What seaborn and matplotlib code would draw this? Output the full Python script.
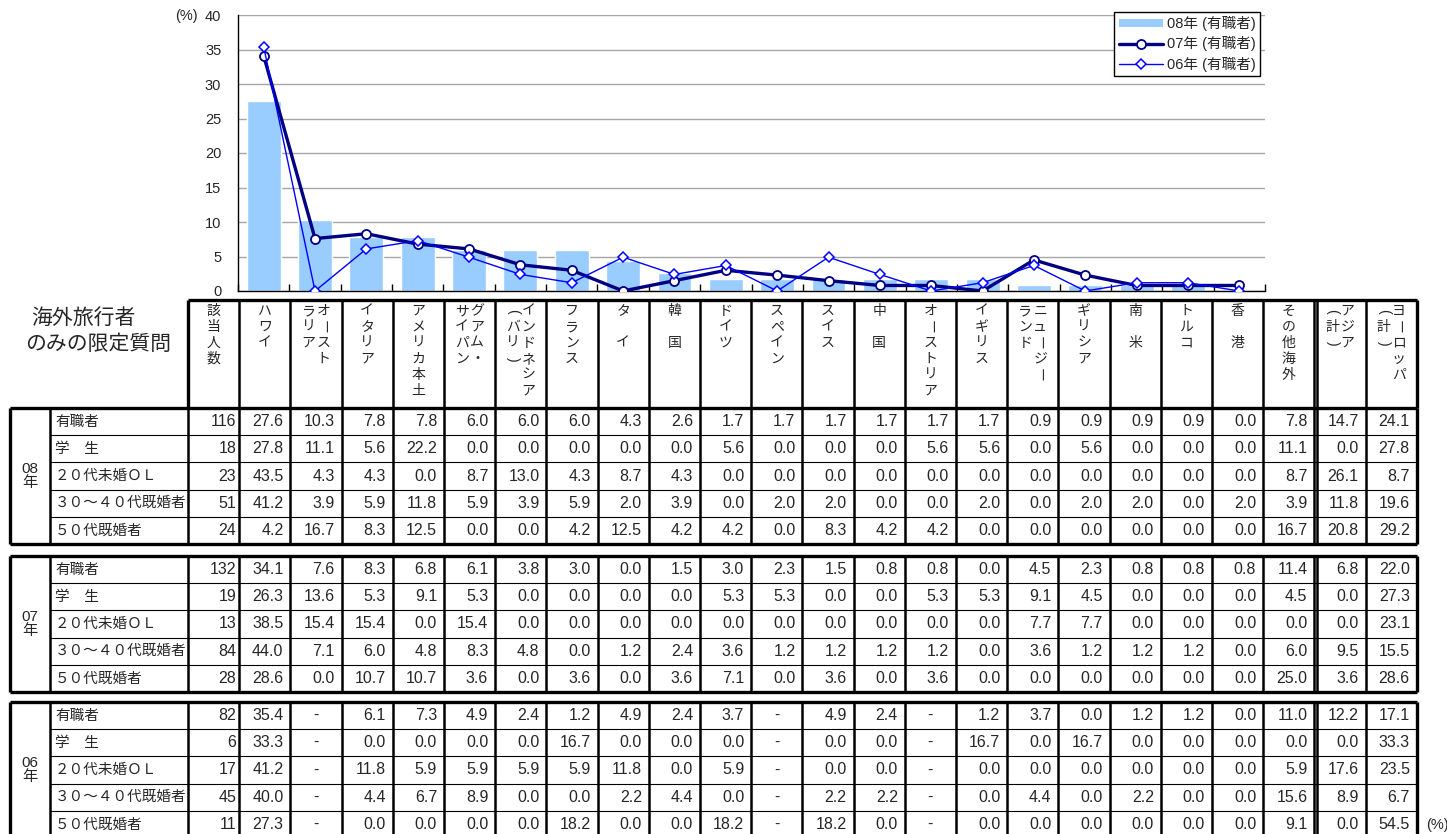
import numpy as np
import pandas as pd
import matplotlib
matplotlib.use("Agg")
import matplotlib.pyplot as plt
import seaborn as sns
from matplotlib.patches import Patch
from matplotlib.lines import Line2D
from matplotlib.font_manager import FontProperties

# ---------------- data ----------------
destinations = ['ハワイ', 'オーストラリア', 'イタリア', 'アメリカ本土', 'グアム・サイパン',
                'インドネシア(バリ)', 'フランス', 'タイ', '韓国', 'ドイツ', 'スペイン', 'スイス',
                '中国', 'オーストリア', 'イギリス', 'ニュージーランド', 'ギリシア', '南米', 'トルコ', '香港']

# header labels written vertically (sub-columns listed right to left)
header_cols = [['該当人数'], ['ハワイ'], ['オースト', 'ラリア'], ['イタリア'], ['アメリカ本土'],
               ['グアム・', 'サイパン'], ['インドネシア', '(バリ)'], ['フランス'], ['タ　イ'],
               ['韓　国'], ['ドイツ'], ['スペイン'], ['スイス'], ['中　国'], ['オーストリア'],
               ['イギリス'], ['ニュージー', 'ランド'], ['ギリシア'], ['南　米'], ['トルコ'],
               ['香　港'], ['その他海外'], ['アジア', '(計)'], ['ヨーロッパ', '(計)']]

groups = ['有職者', '学　生', '２０代未婚ＯＬ', '３０～４０代既婚者', '５０代既婚者']
year_labels = ['08\n年', '07\n年', '06\n年']

counts_08 = [116, 18, 23, 51, 24]
counts_07 = [132, 19, 13, 84, 28]
counts_06 = [82, 6, 17, 45, 11]

y08_worker = [27.6, 10.3, 7.8, 7.8, 6.0, 6.0, 6.0, 4.3, 2.6, 1.7, 1.7, 1.7, 1.7, 1.7, 1.7, 0.9, 0.9, 0.9, 0.9, 0.0, 7.8, 14.7, 24.1]
y08_student = [27.8, 11.1, 5.6, 22.2, 0.0, 0.0, 0.0, 0.0, 0.0, 5.6, 0.0, 0.0, 0.0, 5.6, 5.6, 0.0, 5.6, 0.0, 0.0, 0.0, 11.1, 0.0, 27.8]
y08_ol20 = [43.5, 4.3, 4.3, 0.0, 8.7, 13.0, 4.3, 8.7, 4.3, 0.0, 0.0, 0.0, 0.0, 0.0, 0.0, 0.0, 0.0, 0.0, 0.0, 0.0, 8.7, 26.1, 8.7]
y08_mar3040 = [41.2, 3.9, 5.9, 11.8, 5.9, 3.9, 5.9, 2.0, 3.9, 0.0, 2.0, 2.0, 0.0, 0.0, 2.0, 0.0, 2.0, 2.0, 0.0, 2.0, 3.9, 11.8, 19.6]
y08_mar50 = [4.2, 16.7, 8.3, 12.5, 0.0, 0.0, 4.2, 12.5, 4.2, 4.2, 0.0, 8.3, 4.2, 4.2, 0.0, 0.0, 0.0, 0.0, 0.0, 0.0, 16.7, 20.8, 29.2]

y07_worker = [34.1, 7.6, 8.3, 6.8, 6.1, 3.8, 3.0, 0.0, 1.5, 3.0, 2.3, 1.5, 0.8, 0.8, 0.0, 4.5, 2.3, 0.8, 0.8, 0.8, 11.4, 6.8, 22.0]
y07_student = [26.3, 13.6, 5.3, 9.1, 5.3, 0.0, 0.0, 0.0, 0.0, 5.3, 5.3, 0.0, 0.0, 5.3, 5.3, 9.1, 4.5, 0.0, 0.0, 0.0, 4.5, 0.0, 27.3]
y07_ol20 = [38.5, 15.4, 15.4, 0.0, 15.4, 0.0, 0.0, 0.0, 0.0, 0.0, 0.0, 0.0, 0.0, 0.0, 0.0, 7.7, 7.7, 0.0, 0.0, 0.0, 0.0, 0.0, 23.1]
y07_mar3040 = [44.0, 7.1, 6.0, 4.8, 8.3, 4.8, 0.0, 1.2, 2.4, 3.6, 1.2, 1.2, 1.2, 1.2, 0.0, 3.6, 1.2, 1.2, 1.2, 0.0, 6.0, 9.5, 15.5]
y07_mar50 = [28.6, 0.0, 10.7, 10.7, 3.6, 0.0, 3.6, 0.0, 3.6, 7.1, 0.0, 3.6, 0.0, 3.6, 0.0, 0.0, 0.0, 0.0, 0.0, 0.0, 25.0, 3.6, 28.6]

y06_worker = [35.4, None, 6.1, 7.3, 4.9, 2.4, 1.2, 4.9, 2.4, 3.7, None, 4.9, 2.4, None, 1.2, 3.7, 0.0, 1.2, 1.2, 0.0, 11.0, 12.2, 17.1]
y06_student = [33.3, None, 0.0, 0.0, 0.0, 0.0, 16.7, 0.0, 0.0, 0.0, None, 0.0, 0.0, None, 16.7, 0.0, 16.7, 0.0, 0.0, 0.0, 0.0, 0.0, 33.3]
y06_ol20 = [41.2, None, 11.8, 5.9, 5.9, 5.9, 5.9, 11.8, 0.0, 5.9, None, 0.0, 0.0, None, 0.0, 0.0, 0.0, 0.0, 0.0, 0.0, 5.9, 17.6, 23.5]
y06_mar3040 = [40.0, None, 4.4, 6.7, 8.9, 0.0, 0.0, 2.2, 4.4, 0.0, None, 2.2, 2.2, None, 0.0, 4.4, 0.0, 2.2, 0.0, 0.0, 15.6, 8.9, 6.7]
y06_mar50 = [27.3, None, 0.0, 0.0, 0.0, 0.0, 18.2, 0.0, 0.0, 18.2, None, 18.2, 0.0, None, 0.0, 0.0, 0.0, 0.0, 0.0, 0.0, 9.1, 0.0, 54.5]

legend_labels = ['08年 (有職者)', '07年 (有職者)', '06年 (有職者)']

# ---------------- style ----------------
sns.set_style("white")
plt.rcParams['font.family'] = ['Noto Sans CJK JP', 'DejaVu Sans']
NUMFONT = ['Liberation Sans', 'Noto Sans CJK JP']

W_PX, H_PX = 1447, 834
fig = plt.figure(figsize=(W_PX / 100, H_PX / 100), dpi=100)

# ---------------- table (pixel-space overlay) ----------------
axt = fig.add_axes([0, 0, 1, 1], zorder=0)
axt.set_xlim(0, W_PX)
axt.set_ylim(H_PX, 0)
axt.axis('off')

X0, X1, X2 = 10, 50, 188
CW = 51.2
ncols = 24
col_edges = [X2 + k * CW for k in range(ncols + 1)]
XR = col_edges[-1]
HEAD_T, HEAD_B = 300, 408
RH = 27.2
block_tops = [408, 556, 702]

thick, mid, thin = 2.4, 1.8, 0.8

# header
axt.hlines(HEAD_T, X2, XR, color='k', lw=thick)
for k, xe in enumerate(col_edges):
    axt.vlines(xe, HEAD_T, HEAD_B, color='k', lw=thick if k in (0, ncols) else mid)
axt.vlines(col_edges[22] + 3, HEAD_T, HEAD_B, color='k', lw=mid)
axt.text(83, 318, '海外旅行者', ha='center', va='center', fontsize=15)
axt.text(98, 344, 'のみの限定質問', ha='center', va='center', fontsize=15)

PITCH = 16
for k, subcols in enumerate(header_cols):
    cx = X2 + (k + 0.5) * CW
    n = len(subcols)
    offs = [0] if n == 1 else [7.5, -7.5]
    for s, off in zip(subcols, offs):
        for j, ch in enumerate(s):
            rot = -90 if ch in 'ー()' else 0
            fam = NUMFONT if ch in '()' else None
            kw = dict(family=fam) if fam else {}
            axt.text(cx + off, 311 + j * PITCH, ch, ha='center', va='center',
                     fontsize=10, rotation=rot, **kw)

counts_all = [counts_08, counts_07, counts_06]
rows_all = [[y08_worker, y08_student, y08_ol20, y08_mar3040, y08_mar50],
            [y07_worker, y07_student, y07_ol20, y07_mar3040, y07_mar50],
            [y06_worker, y06_student, y06_ol20, y06_mar3040, y06_mar50]]

for b, top in enumerate(block_tops):
    bot = top + 5 * RH
    axt.hlines([top, bot], X0, XR, color='k', lw=thick)
    axt.vlines([X0, XR], top, bot, color='k', lw=thick)
    axt.vlines([X1, X2], top, bot, color='k', lw=mid)
    for k in range(1, ncols):
        axt.vlines(col_edges[k], top, bot, color='k', lw=mid)
    axt.vlines(col_edges[22] + 3, top, bot, color='k', lw=mid)
    for r in range(1, 5):
        axt.hlines(top + r * RH, X1, XR, color='k', lw=thin)
    axt.text((X0 + X1) / 2, top + 2.5 * RH, year_labels[b], ha='center', va='center',
             fontsize=11, linespacing=1.0, family=NUMFONT)
    for r in range(5):
        yc = top + (r + 0.5) * RH
        axt.text(X1 + 5, yc, groups[r], ha='left', va='center', fontsize=10.5)
        axt.text(col_edges[1] - 3, yc, str(counts_all[b][r]), ha='right', va='center',
                 fontsize=11.5, family=NUMFONT)
        for c, v in enumerate(rows_all[b][r]):
            k = c + 1
            if v is None:
                axt.text(X2 + (k + 0.5) * CW, yc, '-', ha='center', va='center',
                         fontsize=11.5, family=NUMFONT)
            else:
                axt.text(col_edges[k + 1] - 7, yc, f'{v:.1f}', ha='right', va='center',
                         fontsize=11.5, family=NUMFONT)

axt.text(1437, 825, '(%)', ha='center', va='center', fontsize=10.5, family=NUMFONT)

# ---------------- chart ----------------
ax = fig.add_axes([238 / W_PX, 1 - 291 / H_PX, (1265 - 238) / W_PX, 276 / H_PX], zorder=2)
ax.set_facecolor('none')

bar08 = y08_worker[:20]
line07 = y07_worker[:20]
line06 = [0.0 if v is None else v for v in y06_worker[:20]]

df = pd.DataFrame({'dest': pd.Categorical(destinations, categories=destinations, ordered=True),
                   'pct': bar08})
sns.barplot(data=df, x='dest', y='pct', color='#99CCFF', saturation=1, width=0.66, ax=ax, zorder=2)

xpos = np.arange(len(destinations))
ax.plot(xpos, line07, color='#000080', lw=2.4, marker='o', markersize=6.5,
        markerfacecolor='white', markeredgecolor='#000080', markeredgewidth=1.3, zorder=4)
ax.plot(xpos, line06, color='#0000FF', lw=1.0, marker='D', markersize=5.5,
        markerfacecolor='white', markeredgecolor='#0000FF', markeredgewidth=1.1, zorder=5)

ax.set_xlim(-0.5, len(destinations) - 0.5)
ax.set_ylim(0, 40)
ax.set_yticks(range(0, 41, 5))
ax.set_xticks([])
ax.set_xticks(np.arange(-0.5, len(destinations), 1), minor=True)
ax.tick_params(axis='x', which='minor', direction='in', length=5, width=1, color='black', bottom=True)
ax.tick_params(axis='y', length=0, pad=12, labelsize=10.5)
for lbl in ax.get_yticklabels():
    lbl.set_fontfamily(NUMFONT)
ax.set_xlabel('')
ax.set_ylabel('')
ax.yaxis.grid(True, color='#A6A6A6', lw=1.0)
ax.set_axisbelow(True)
for s in ['top', 'right']:
    ax.spines[s].set_visible(False)
for s in ['left', 'bottom']:
    ax.spines[s].set_color('black')
    ax.spines[s].set_linewidth(1.0)

fig.text(186 / W_PX, 1 - 16 / H_PX, '(%)', ha='center', va='center', fontsize=10.5, family=NUMFONT)

handles = [Patch(facecolor='#99CCFF', edgecolor='none'),
           Line2D([], [], color='#000080', lw=2.4, marker='o', markersize=6.5,
                  markerfacecolor='white', markeredgecolor='#000080', markeredgewidth=1.3),
           Line2D([], [], color='#0000FF', lw=1.0, marker='D', markersize=5.5,
                  markerfacecolor='white', markeredgecolor='#0000FF', markeredgewidth=1.1)]
leg = fig.legend(handles, legend_labels, loc='upper right',
                 bbox_to_anchor=(1260 / W_PX, 1 - 12 / H_PX), bbox_transform=fig.transFigure,
                 prop=FontProperties(family=NUMFONT, size=10.5), frameon=True, fancybox=False,
                 edgecolor='black', framealpha=1, borderpad=0.3, labelspacing=0.35,
                 handlelength=3.0, handleheight=0.5, handletextpad=0.3, borderaxespad=0)
leg.get_frame().set_linewidth(1.0)

fig.savefig('out.png', dpi=100)
